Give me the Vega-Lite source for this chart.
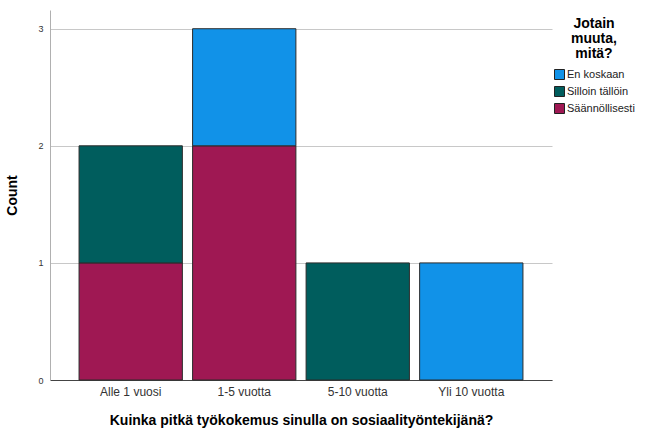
{
  "$schema": "https://vega.github.io/schema/vega-lite/v6.json",
  "autosize": {"type": "none"},
  "width": 502,
  "height": 370,
  "padding": {"left": 50, "top": 10, "right": 103, "bottom": 51},
  "background": "white",
  "config": {
    "view": {"stroke": null},
    "font": "Liberation Sans"
  },
  "data": {
    "values": [
      {"kokemus": "Alle 1 vuosi", "vastaus": "Säännöllisesti", "count": 1},
      {"kokemus": "Alle 1 vuosi", "vastaus": "Silloin tällöin", "count": 1},
      {"kokemus": "1-5 vuotta", "vastaus": "Säännöllisesti", "count": 2},
      {"kokemus": "1-5 vuotta", "vastaus": "En koskaan", "count": 1},
      {"kokemus": "5-10 vuotta", "vastaus": "Silloin tällöin", "count": 1},
      {"kokemus": "Yli 10 vuotta", "vastaus": "En koskaan", "count": 1}
    ]
  },
  "mark": {"type": "bar", "stroke": "#2b2b2b", "strokeWidth": 1},
  "encoding": {
    "x": {
      "field": "kokemus",
      "type": "nominal",
      "sort": ["Alle 1 vuosi", "1-5 vuotta", "5-10 vuotta", "Yli 10 vuotta"],
      "scale": {"paddingInner": 0.09, "paddingOuter": 0.256},
      "axis": {
        "title": "Kuinka pitkä työkokemus sinulla on sosiaalityöntekijänä?",
        "titleFont": "Liberation Sans",
        "titleFontSize": 14,
        "titleFontWeight": "bold",
        "titleColor": "#000000",
        "titlePadding": 16,
        "labelAngle": 0,
        "labelFontSize": 12,
        "labelColor": "#333333",
        "labelPadding": 6,
        "ticks": false,
        "domainColor": "#444444",
        "domainWidth": 1
      }
    },
    "y": {
      "field": "count",
      "type": "quantitative",
      "aggregate": "sum",
      "stack": "zero",
      "scale": {"domain": [0, 3.16], "nice": false},
      "axis": {
        "title": "Count",
        "values": [0, 1, 2, 3],
        "format": "d",
        "titleFont": "Liberation Sans",
        "titleFontSize": 14,
        "titleFontWeight": "bold",
        "titleColor": "#000000",
        "titlePadding": 18,
        "labelFontSize": 9,
        "labelColor": "#333333",
        "labelPadding": 7,
        "ticks": false,
        "domainColor": "#b0b0b0",
        "grid": true,
        "gridColor": "#c8c8c8",
        "gridWidth": 1
      }
    },
    "color": {
      "field": "vastaus",
      "type": "nominal",
      "scale": {
        "domain": ["En koskaan", "Silloin tällöin", "Säännöllisesti"],
        "range": ["#1192e8", "#005d5d", "#9f1853"]
      },
      "legend": {
        "title": ["Jotain", "muuta,", "mitä?"],
        "orient": "right",
        "offset": -5,
        "titleFontSize": 14,
        "titleFontWeight": "bold",
        "titleColor": "#000000",
        "titleAnchor": "middle",
        "titleAlign": "center",
        "titleLineHeight": 15,
        "titlePadding": 8,
        "labelFontSize": 11,
        "labelColor": "#222222",
        "labelOffset": 2,
        "symbolType": "square",
        "symbolSize": 100,
        "symbolStrokeColor": "#222222",
        "symbolStrokeWidth": 1,
        "symbolOpacity": 1,
        "rowPadding": 2,
        "padding": 7
      }
    },
    "order": {
      "field": "vastaus",
      "sort": "descending"
    }
  }
}
